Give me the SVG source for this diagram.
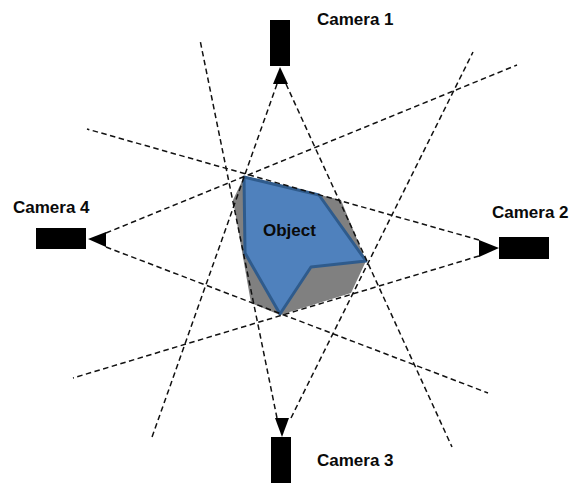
<svg xmlns="http://www.w3.org/2000/svg" width="571" height="483" viewBox="0 0 571 483">
<style>
.cam{fill:#000}
.lbl{font-family:"Liberation Sans",Arial,sans-serif;font-weight:bold;font-size:17px;fill:#0a0a0a}
.ray{stroke:#111;stroke-width:1.5;stroke-dasharray:5.5 3.5;fill:none}
</style>
<rect width="571" height="483" fill="#fff"/>
<g id="object">
<polygon points="244,177 341,200 366,261 351,293 280,315 251,303 233,200" fill="#808080"/>
<polygon points="244,177 319,195 366,261 311,267 280,314 245,253" fill="#4f81bd" stroke="#2f5b8c" stroke-width="3" stroke-linejoin="round"/>
<text class="lbl" x="263" y="236">Object</text>
</g>
<g id="connectors">
<line class="ray" x1="277" y1="84" x2="151" y2="440"/>
<line class="ray" x1="286" y1="84" x2="452" y2="447"/>
<line class="ray" x1="277" y1="418" x2="200" y2="40"/>
<line class="ray" x1="291" y1="418" x2="473" y2="52"/>
<line class="ray" x1="106" y1="233" x2="517" y2="65"/>
<line class="ray" x1="106" y1="247" x2="488" y2="393"/>
<line class="ray" x1="479" y1="240" x2="87" y2="129"/>
<line class="ray" x1="479" y1="256" x2="73" y2="378"/>
</g>
<g id="camera1">
<rect class="cam" x="270" y="20" width="20" height="46"/>
<polygon class="cam" points="280,67 273,84 288,84"/>
<text class="lbl" x="317" y="25">Camera 1</text>
</g>
<g id="camera2">
<rect class="cam" x="499" y="237" width="50" height="22"/>
<polygon class="cam" points="499,248 479,240 479,257"/>
<text class="lbl" x="492" y="218">Camera 2</text>
</g>
<g id="camera3">
<rect class="cam" x="271" y="437" width="20" height="46"/>
<polygon class="cam" points="282,437 275,418 289,418"/>
<text class="lbl" x="317" y="466">Camera 3</text>
</g>
<g id="camera4">
<rect class="cam" x="36" y="228" width="50" height="21"/>
<polygon class="cam" points="88,239 106,232 106,247"/>
<text class="lbl" x="13" y="213">Camera 4</text>
</g>
</svg>
